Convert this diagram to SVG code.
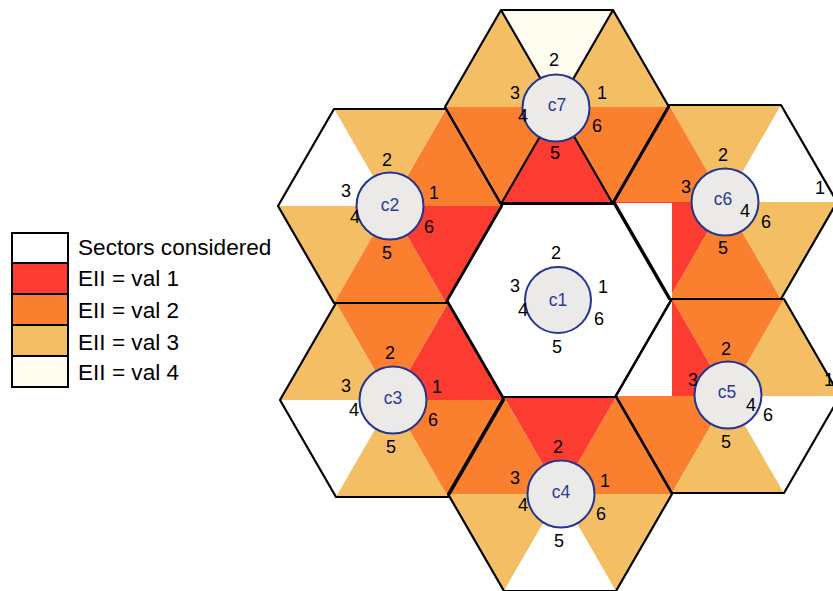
<svg xmlns="http://www.w3.org/2000/svg" width="833" height="591" viewBox="0 0 833 591">
<style>
.v1{fill:#FC3B31}.v2{fill:#FA802F}.v3{fill:#F4BF64}.v4{fill:#FFFDF0}.w{fill:#FFFFFF}
.sec polygon{stroke:#9C8468;stroke-width:0.8;stroke-opacity:0.7}
.out{fill:none;stroke:#000;stroke-width:2.2;stroke-linejoin:round}
.circ{fill:#EBEAE8;stroke:#24348F;stroke-width:2}
.cl{font-family:"Liberation Sans",Arial,sans-serif;font-size:17.5px;fill:#2B3A99;text-anchor:middle}
.n{font-family:"Liberation Sans",Arial,sans-serif;font-size:18px;fill:#000;text-anchor:middle}
.lg{font-family:"Liberation Sans",Arial,sans-serif;font-size:22.6px;fill:#000}
.lb{stroke:#000;stroke-width:2}
</style>
<defs>
<polygon id="s1" points="0,0 112,0 56,-97"/>
<polygon id="s2" points="0,0 56,-97 -56,-97"/>
<polygon id="s3" points="0,0 -56,-97 -112,0"/>
<polygon id="s4" points="0,0 -112,0 -56,97"/>
<polygon id="s5" points="0,0 -56,97 56,97"/>
<polygon id="s6" points="0,0 56,97 112,0"/>
<polygon id="hex" points="112,0 56,-97 -56,-97 -112,0 -56,97 56,97"/>
</defs>

<g id="legend">
<rect x="12" y="233" width="56" height="30" class="w lb"/>
<rect x="12" y="263" width="56" height="31" class="v1 lb"/>
<rect x="12" y="294" width="56" height="31" class="v2 lb"/>
<rect x="12" y="325" width="56" height="31" class="v3 lb"/>
<rect x="12" y="356" width="56" height="31" class="v4 lb"/>
<text x="78" y="255" class="lg">Sectors considered</text>
<text x="78" y="286" class="lg">EII = val 1</text>
<text x="78" y="318" class="lg">EII = val 2</text>
<text x="78" y="350" class="lg">EII = val 3</text>
<text x="78" y="380" class="lg">EII = val 4</text>
</g>

<g id="sectors">
<g id="sec-c7" class="sec" transform="translate(557,107)">
<use href="#s1" class="v3"/><use href="#s2" class="v4"/><use href="#s3" class="v3"/>
<use href="#s4" class="v2"/><use href="#s5" class="v1"/><use href="#s6" class="v2"/>
</g>
<g id="sec-c2" class="sec" transform="translate(390,206)">
<use href="#s1" class="v2"/><use href="#s2" class="v3"/><use href="#s3" class="w"/>
<use href="#s4" class="v3"/><use href="#s5" class="v2"/><use href="#s6" class="v1"/>
</g>
<g id="sec-c3" class="sec" transform="translate(392,400)">
<use href="#s1" class="v1"/><use href="#s2" class="v2"/><use href="#s3" class="v3"/>
<use href="#s4" class="w"/><use href="#s5" class="v3"/><use href="#s6" class="v2"/>
</g>
<g id="sec-c4" class="sec" transform="translate(560,494)">
<use href="#s1" class="v2"/><use href="#s2" class="v1"/><use href="#s3" class="v2"/>
<use href="#s4" class="v3"/><use href="#s5" class="w"/><use href="#s6" class="v3"/>
</g>
<g id="sec-c5" class="sec" transform="translate(728,396)">
<use href="#s1" class="v3"/><use href="#s2" class="v2"/><use href="#s3" class="v1"/>
<use href="#s4" class="v2"/><use href="#s5" class="v3"/><use href="#s6" class="w"/>
</g>
<g id="sec-c6" class="sec" transform="translate(725,202)">
<use href="#s1" class="w"/><use href="#s2" class="v3"/><use href="#s3" class="v2"/>
<use href="#s4" class="v1"/><use href="#s5" class="v2"/><use href="#s6" class="v3"/>
</g>
<rect x="612" y="203" width="60" height="193" fill="#FFFFFF"/>
<use href="#hex" transform="translate(559,300)" fill="#FFFFFF"/>
</g>

<g id="connectors">
<use href="#hex" class="out" transform="translate(557,107)"/>
<use href="#hex" class="out" transform="translate(390,206)"/>
<use href="#hex" class="out" transform="translate(392,400)"/>
<use href="#hex" class="out" transform="translate(560,494)"/>
<use href="#hex" class="out" transform="translate(728,396)"/>
<use href="#hex" class="out" transform="translate(725,202)"/>
<use href="#hex" class="out" transform="translate(559,300)"/>
<path d="M501,10 L613,204 M613,10 L501,204" class="out"/>
</g>

<g id="c1"><circle cx="558" cy="300" r="33" class="circ"/><text x="558" y="306" class="cl">c1</text>
<text x="556" y="259" class="n">2</text><text x="515" y="292" class="n">3</text><text x="603" y="293" class="n">1</text>
<text x="523" y="316" class="n">4</text><text x="599" y="325" class="n">6</text><text x="557" y="353" class="n">5</text></g>

<g id="c7"><circle cx="556" cy="108" r="33.5" class="circ"/><text x="557" y="111" class="cl">c7</text>
<text x="554" y="66" class="n">2</text><text x="515" y="99" class="n">3</text><text x="602" y="99" class="n">1</text>
<text x="523" y="122" class="n">4</text><text x="597" y="132" class="n">6</text><text x="555" y="159" class="n">5</text></g>

<g id="c2"><circle cx="390" cy="206" r="33.5" class="circ"/><text x="390" y="211" class="cl">c2</text>
<text x="387" y="166" class="n">2</text><text x="346" y="197" class="n">3</text><text x="434" y="199" class="n">1</text>
<text x="355" y="223" class="n">4</text><text x="429" y="233" class="n">6</text><text x="387" y="259" class="n">5</text></g>

<g id="c3"><circle cx="393" cy="400" r="33.5" class="circ"/><text x="393" y="404" class="cl">c3</text>
<text x="390" y="359" class="n">2</text><text x="346" y="392" class="n">3</text><text x="437" y="393" class="n">1</text>
<text x="354" y="416" class="n">4</text><text x="433" y="426" class="n">6</text><text x="391" y="453" class="n">5</text></g>

<g id="c4"><circle cx="561" cy="494" r="33.5" class="circ"/><text x="561" y="498" class="cl">c4</text>
<text x="558" y="453" class="n">2</text><text x="515" y="484" class="n">3</text><text x="605" y="487" class="n">1</text>
<text x="523" y="511" class="n">4</text><text x="601" y="520" class="n">6</text><text x="559" y="547" class="n">5</text></g>

<g id="c5"><circle cx="728" cy="395" r="33.5" class="circ"/><text x="727" y="398" class="cl">c5</text>
<text x="726" y="355" class="n">2</text><text x="693" y="386" class="n">3</text><text x="829" y="386" class="n">1</text>
<text x="751" y="411" class="n">4</text><text x="768" y="421" class="n">6</text><text x="726" y="448" class="n">5</text></g>

<g id="c6"><circle cx="725" cy="202" r="33.5" class="circ"/><text x="723" y="205" class="cl">c6</text>
<text x="723" y="161" class="n">2</text><text x="686" y="193" class="n">3</text><text x="820" y="194" class="n">1</text>
<text x="745" y="217" class="n">4</text><text x="766" y="228" class="n">6</text><text x="723" y="254" class="n">5</text></g>
</svg>
